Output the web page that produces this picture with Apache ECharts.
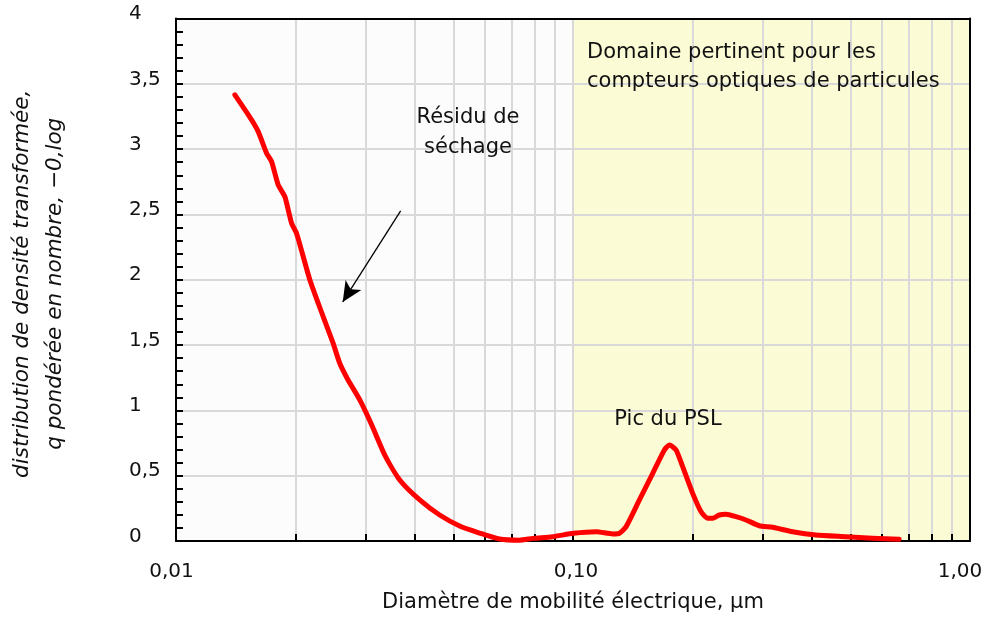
<!DOCTYPE html>
<html><head><meta charset="utf-8">
<script src="https://cdn.jsdelivr.net/npm/echarts@6/dist/echarts.min.js"></script>
<style>html,body{margin:0;padding:0;background:#fff}#c{width:986px;height:617px}</style>
</head><body><div id="c"></div>
<script>
const diameters = [0.01407,0.01550,0.01611,0.01691,0.01741,0.01809,0.01880,0.01955,0.02012,0.02174,0.02348,0.02487,0.02585,0.02713,0.02904,0.03112,0.03357,0.03661,0.04111,0.04615,0.05182,0.05817,0.06532,0.07334,0.07924,0.08881,0.1003,0.1144,0.1259,0.1309,0.1361,0.1470,0.1588,0.1699,0.1749,0.1818,0.1889,0.2002,0.2102,0.2184,0.2248,0.2337,0.2429,0.2574,0.2728,0.2946,0.3182,0.3573,0.4091,0.4868,0.5679,0.6628];
const density = [3.415,3.224,3.134,2.969,2.904,2.726,2.636,2.433,2.356,1.998,1.718,1.514,1.361,1.233,1.080,0.888,0.658,0.467,0.314,0.199,0.115,0.061,0.015,0.006,0.020,0.033,0.059,0.071,0.054,0.059,0.110,0.314,0.518,0.697,0.735,0.697,0.569,0.365,0.224,0.174,0.174,0.199,0.204,0.186,0.161,0.117,0.105,0.071,0.046,0.033,0.021,0.013];
const xTickValues = [0.01,0.02,0.03,0.04,0.05,0.06,0.07,0.08,0.09,0.1,0.2,0.3,0.4,0.5,0.6,0.7,0.8,0.9,1];
const xLabelValues = [0.01,0.1,1];
const xLabelText = ['0,01','0,10','1,00'];
const opcRange = [0.1, 1];
const arrowFrom = [0.0368, 2.527];
const arrowTo = [0.0263, 1.830];
const FONT = '"DejaVu Sans"';

function xLabel(v){
  const k = Math.round(Math.log10(v)) + 2;
  const t = xLabelText[k];
  return t ? '{x' + k + '|' + t + '}' : '';
}

const chart = echarts.init(document.getElementById('c'), null, {renderer:'canvas'});
const gridLine = {show:true, lineStyle:{color:'#d9d9d9', width:2}};
const lblStyle = {color:'#111', fontSize:20, fontFamily:FONT};
chart.setOption({
  animation:false,
  grid:{left:176, right:16, top:18.5, bottom:76, show:true, backgroundColor:'#fcfcfc', borderWidth:0, containLabel:false, outerBoundsMode:'none'},
  xAxis:[{
    type:'log', min:0.01, max:1, logBase:10, z:3,
    axisLine:{show:true, onZero:false, lineStyle:{color:'#000', width:2}},
    axisTick:{show:true, inside:true, length:7, lineStyle:{color:'#000', width:2}, customValues:xTickValues},
    axisLabel:{show:true, customValues:xLabelValues, formatter:xLabel, margin:21,
      rich:{x0:Object.assign({padding:[0,9,0,0]},lblStyle), x1:Object.assign({padding:[0,0,0,6]},lblStyle), x2:Object.assign({padding:[0,20,0,0]},lblStyle)}},
    splitLine:gridLine, minorTick:{show:false},
    name:'Diamètre de mobilité électrique, µm', nameLocation:'middle', nameGap:51,
    nameTextStyle:{color:'#111', fontSize:21, fontFamily:FONT}
  },{
    type:'log', min:0.01, max:1, position:'top', z:3,
    axisLine:{show:true, onZero:false, lineStyle:{color:'#000', width:2}},
    axisTick:{show:false}, axisLabel:{show:false}, splitLine:{show:false}
  }],
  yAxis:[{
    type:'value', min:0, max:4, interval:0.5, z:3,
    axisLine:{show:true, onZero:false, lineStyle:{color:'#000', width:2}},
    axisTick:{show:true, inside:true, length:7, lineStyle:{color:'#000', width:2}},
    minorTick:{show:true, splitNumber:5, length:7, lineStyle:{color:'#000', width:2}},
    axisLabel:{formatter:v=>'{y|' + String(v).replace('.',',') + '}', align:'left', margin:47,
      rich:{y:Object.assign({padding:[0,0,9,0]},lblStyle)}},
    splitLine:gridLine,
    name:'distribution de densité transformée,\nq pondérée en nombre, −0,log', nameLocation:'middle', nameGap:104, nameRotate:90,
    nameTextStyle:{color:'#111', fontSize:21.5, fontStyle:'italic', fontFamily:FONT, lineHeight:33, padding:[0,8,0,0]}
  },{
    type:'value', min:0, max:4, position:'right', z:3,
    axisLine:{show:true, onZero:false, lineStyle:{color:'#000', width:2}},
    axisTick:{show:false}, axisLabel:{show:false}, splitLine:{show:false}
  }],
  series:[{
    type:'line', z:1, data:[], silent:true,
    markArea:{silent:true, itemStyle:{color:'#fbfbd5', opacity:1}, data:[[{xAxis:opcRange[0]},{xAxis:opcRange[1]}]]}
  },{
    type:'line', z:5, showSymbol:false, smooth:0.2,
    data:diameters.map((d,i)=>[d,density[i]]),
    lineStyle:{color:'#ff0000', width:5, cap:'round', join:'round'},
    markLine:{silent:true, symbol:['none','arrow'], symbolSize:[14,20], lineStyle:{color:'#000', width:1.3, type:'solid'}, label:{show:false},
      data:[[{coord:arrowFrom},{coord:arrowTo}]]}
  }],
  graphic:[
    {type:'text', x:468, y:103, z:10, style:{text:'Résidu de\nséchage', font:'21px '+FONT, fill:'#111', align:'center', lineHeight:30}},
    {type:'text', x:668, y:409, z:10, style:{text:'Pic du PSL', font:'21px '+FONT, fill:'#111', align:'center'}},
    {type:'text', x:587, y:38, z:10, style:{text:'Domaine pertinent pour les\ncompteurs optiques de particules', font:'21px '+FONT, fill:'#111', align:'left', lineHeight:29}}
  ]
});
</script></body></html>
